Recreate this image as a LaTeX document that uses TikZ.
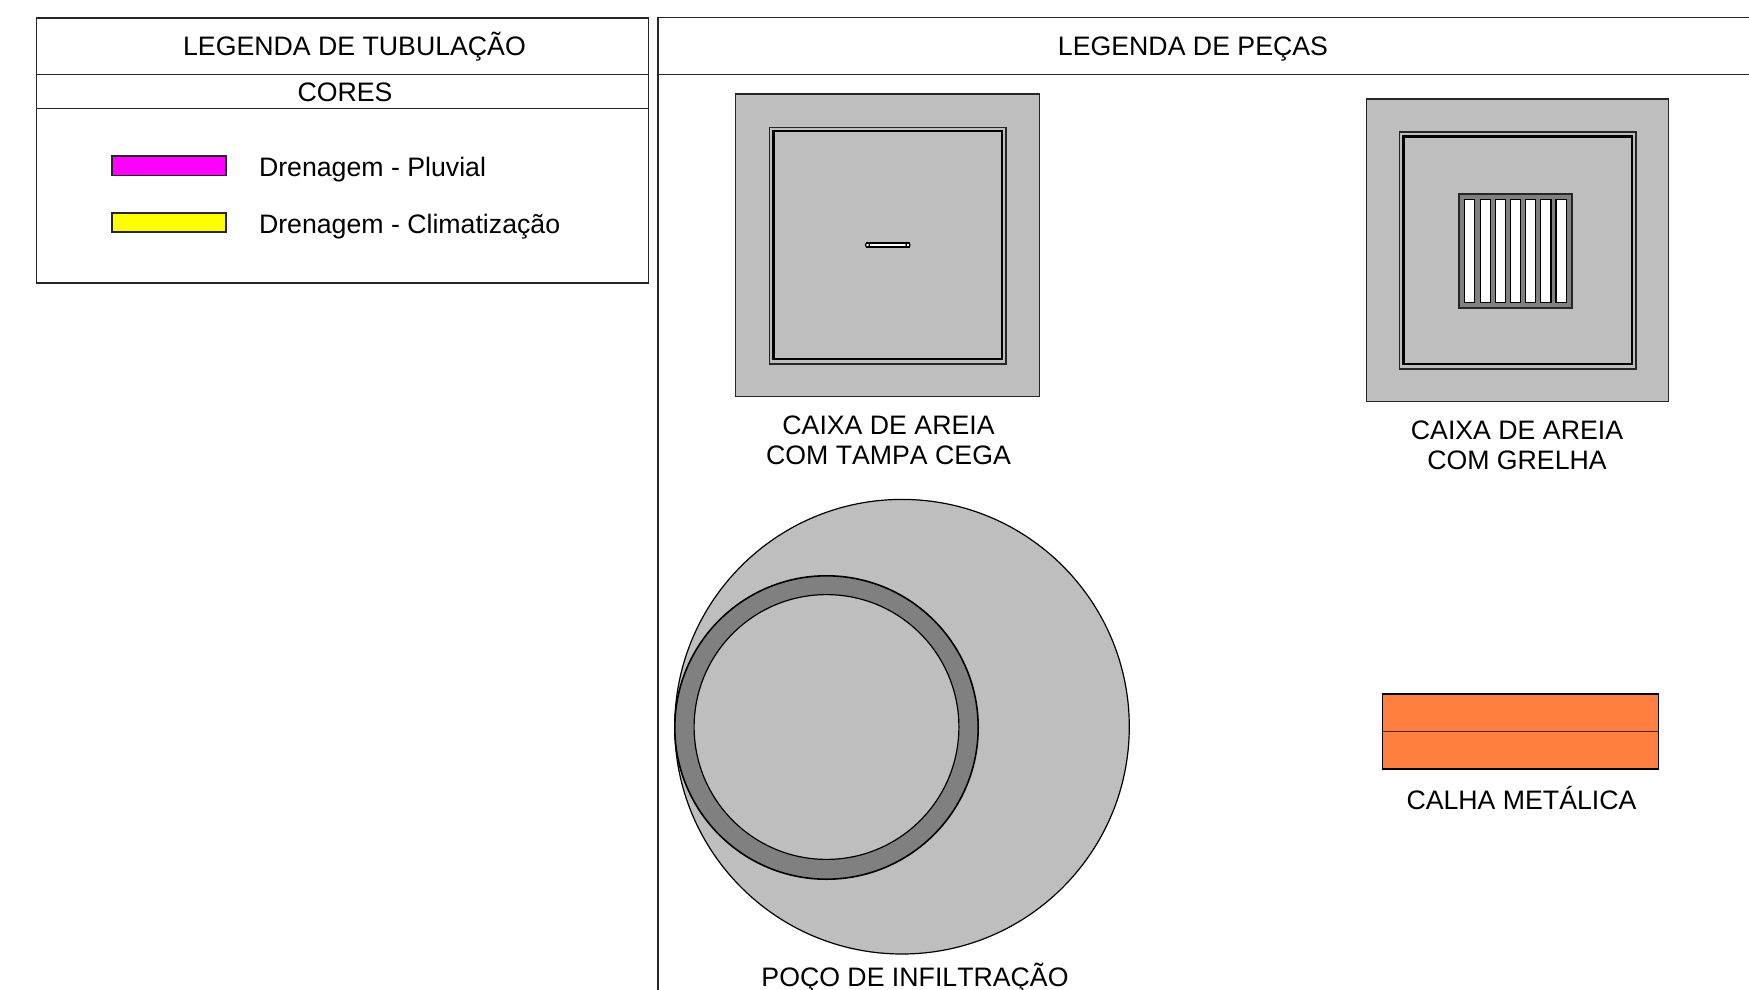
\documentclass[tikz,border=0pt]{standalone}
\usepackage{fontspec}
\setmainfont[Kerning=Off]{Liberation Sans}
\definecolor{piece}{HTML}{BEBEBE}
\definecolor{ring}{HTML}{808080}
\definecolor{gutter}{HTML}{FF7F40}
\definecolor{edge}{HTML}{262626}
\definecolor{pluvial}{HTML}{FF00FF}
\definecolor{clima}{HTML}{FFFF00}
\tikzset{
  label text/.style={anchor=base,inner sep=0pt,outer sep=0pt,text=black,font=\fontsize{26.7}{31}\selectfont},
  left text/.style={label text,anchor=base west},
  panel/.style={draw=edge,line width=1.1pt},
  piece box/.style={draw=edge,fill=piece,line width=1.6pt},
  frame thin/.style={draw=edge,line width=1.6pt},
  frame thick/.style={draw=black,line width=2.6pt},
  slot/.style={draw=black,fill=white,line width=1.3pt},
  swatch/.style={draw=edge,line width=1.2pt},
  circle line/.style={draw=black,line width=1.2pt},
}
\begin{document}
\begin{tikzpicture}[x=1pt,y=-1pt]
\useasboundingbox (0,0) rectangle (1749,990);
\fill[white] (0,0) rectangle (1749,990);
% left panel
\draw[panel] (36.2,18) rectangle (648.8,283);
\draw[panel] (36.2,74.5) -- (648.8,74.5);
\draw[panel] (36.2,108.5) -- (648.8,108.5);
\node[label text] (t1) at (354.5,56) {LEGENDA DE TUBULAÇÃO};
\node[label text] (t2) at (345,101) {CORES};
\draw[swatch,fill=pluvial] (112,156) rectangle (226,175.5);
\draw[swatch,fill=clima] (112,213) rectangle (226,232);
\node[left text] (d1) at (259,176) {Drenagem - Pluvial};
\node[left text] (d2) at (259,233) {Drenagem - Climatização};
% right panel
\draw[panel] (1749,17.5) -- (658,17.5) -- (658,990);
\draw[panel] (658,74.3) -- (1749,74.3);
\node[label text] (t3) at (1193,56) {LEGENDA DE PEÇAS};
% box 1
\draw[piece box] (735.5,94) rectangle (1039.5,396.5);
\draw[frame thin] (769.5,127.5) rectangle (1006,364);
\draw[frame thick] (773.5,131) rectangle (1002,359);
\draw[draw=black,fill=white,line width=1.2pt] (867,243) rectangle (909,247);
\draw[draw=black,fill=white,line width=1.2pt] (867.5,245) circle (2);
\draw[draw=black,fill=white,line width=1.2pt] (908,245) circle (2);
\node[label text] (c1a) at (888.5,434) {CAIXA DE AREIA};
\node[label text] (c1b) at (888.5,464) {COM TAMPA CEGA};
% box 2
\draw[piece box] (1366.5,99) rectangle (1668.5,401.5);
\draw[frame thin] (1399.5,132) rectangle (1636,369);
\draw[frame thick] (1403.5,136.5) rectangle (1632,364);
\draw[draw=edge,fill=ring,line width=1.5pt] (1459,194) rectangle (1572,308);
\foreach \a/\b in {1464.3/1474.7,1480.3/1490.7,1495.3/1505.3,1510.3/1520.3,1525.7/1535.7,1540.7/1551,1556/1566.3}
  \draw[slot] (\a,199.7) rectangle (\b,302.7);
\node[label text] (c2a) at (1517,439) {CAIXA DE AREIA};
\node[label text] (c2b) at (1517,469) {COM GRELHA};
% well
\draw[circle line,fill=piece] (902,726.7) circle (227.3);
\draw[circle line,line width=1.6pt,fill=ring] (826.5,727.5) circle (151.7);
\draw[circle line,fill=piece] (826.5,727) circle (132.4);
\node[label text] (w) at (915,986) {POÇO DE INFILTRAÇÃO};
% gutter
\draw[draw=black,fill=gutter,line width=1.6pt] (1382.5,694) rectangle (1658.5,769);
\draw[draw=black!70!gutter,line width=1.2pt] (1382.5,731.5) -- (1658.5,731.5);
\node[label text] (g) at (1521.5,809) {CALHA METÁLICA};
\end{tikzpicture}
\end{document}
